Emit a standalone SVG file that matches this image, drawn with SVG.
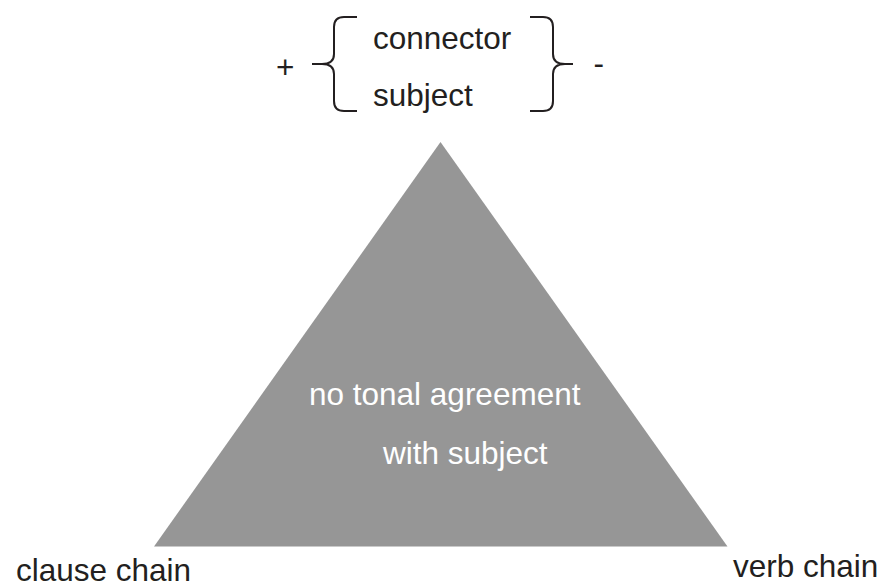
<svg xmlns="http://www.w3.org/2000/svg" width="882" height="588" viewBox="0 0 882 588">
<style>
text{font-family:"Liberation Sans",Arial,sans-serif;font-size:31.5px;fill:#231f20}
.w{fill:#ffffff}
.brace{fill:none;stroke:#231f20;stroke-width:2;stroke-linecap:butt;stroke-linejoin:round}
</style>
<rect width="882" height="588" fill="#ffffff"/>
<g id="triangle">
<polygon points="440.5,142 154,546.5 727.5,546.5" fill="#969696"/>
<text class="w" x="309" y="405">no tonal agreement</text>
<text class="w" x="383" y="464">with subject</text>
</g>
<g id="bracket">
<text x="276" y="78">+</text>
<path class="brace" d="M357,17 L344,17 Q334,17 334,27 L334,54 Q334,64 322,64 L312,64 M322,64 Q334,64 334,74 L334,101 Q334,111 344,111 L357,111"/>
<text x="373" y="48.5">connector</text>
<text x="373" y="106">subject</text>
<path class="brace" d="M530,17 L543,17 Q553,17 553,27 L553,54 Q553,64 565,64 L573,64 M565,64 Q553,64 553,74 L553,101 Q553,111 543,111 L530,111"/>
<text x="593.5" y="73.5">-</text>
</g>
<g id="labels">
<text x="16" y="581">clause chain</text>
<text x="733" y="577">verb chain</text>
</g>
<g id="connectors"></g>
</svg>
